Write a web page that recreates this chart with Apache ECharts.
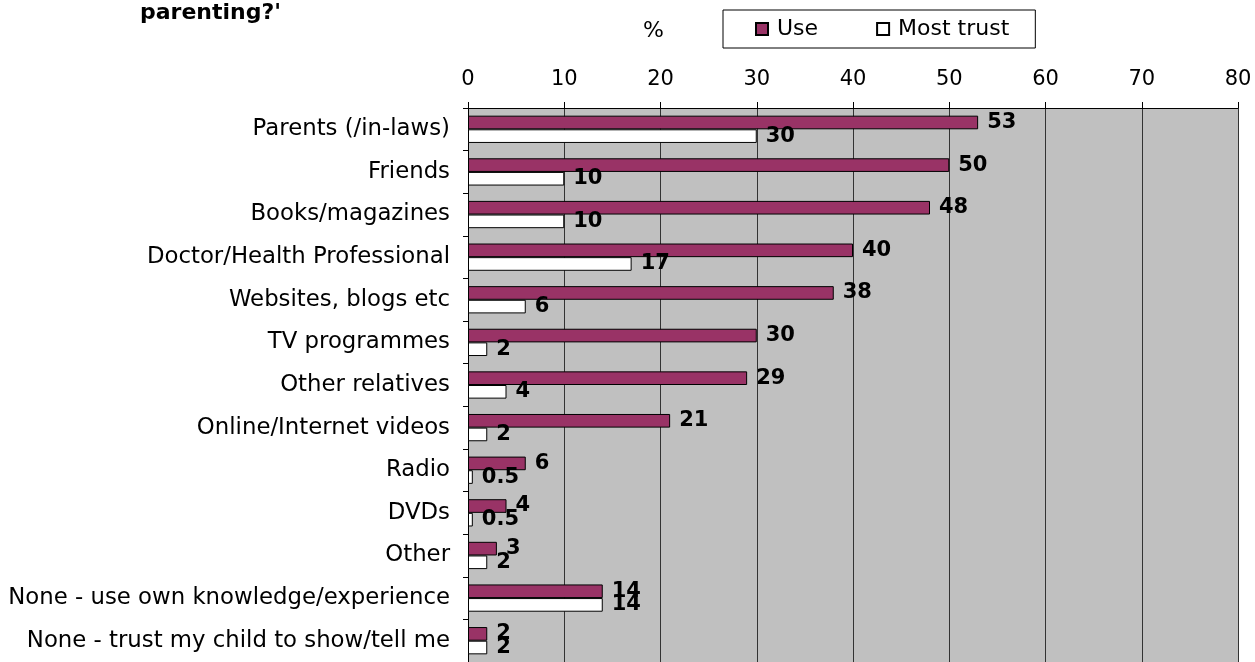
<!DOCTYPE html>
<html>
<head>
<meta charset="utf-8">
<script src="https://cdn.jsdelivr.net/npm/echarts@6/dist/echarts.min.js"></script>
<style>
html,body{margin:0;padding:0;background:#fff;}
#chart{width:1255px;height:662px;}
</style>
</head>
<body>
<div id="chart"></div>
<script>
const titleText = "parenting?'";
const unitText = '%';
const seriesNames = ['Use', 'Most trust'];
const categories = [
  'Parents (/in-laws)',
  'Friends',
  'Books/magazines',
  'Doctor/Health Professional',
  'Websites, blogs etc',
  'TV programmes',
  'Other relatives',
  'Online/Internet videos',
  'Radio',
  'DVDs',
  'Other',
  'None - use own knowledge/experience',
  'None - trust my child to show/tell me'
];
const useValues = [53, 50, 48, 40, 38, 30, 29, 21, 6, 4, 3, 14, 2];
const trustValues = [30, 10, 10, 17, 6, 2, 4, 2, 0.5, 0.5, 2, 14, 2];
const axisMin = 0, axisMax = 80, axisStep = 10;

const FONT = 'DejaVu Sans';
const chart = echarts.init(document.getElementById('chart'), null, {renderer: 'canvas'});

const labelStyle = {
  show: true,
  position: 'right',
  distance: 9,
  fontFamily: FONT,
  fontWeight: 'bold',
  fontSize: 21,
  color: '#000'
};

chart.setOption({
  animation: false,
  backgroundColor: '#fff',
  textStyle: {fontFamily: FONT},
  graphic: [
    {type: 'text', left: 140, top: 2, style: {text: titleText, font: 'bold 22px "DejaVu Sans"', fill: '#000'}},
    {type: 'text', left: 643, top: 20, style: {text: unitText, font: '22px "DejaVu Sans"', fill: '#000'}}
  ],
  legend: {
    data: seriesNames,
    left: 723,
    top: 10,
    orient: 'horizontal',
    padding: [8, 26, 8, 32],
    borderColor: '#000',
    borderWidth: 1,
    itemWidth: 12,
    itemHeight: 12,
    itemGap: 58,
    icon: 'rect',
    textStyle: {fontFamily: FONT, fontSize: 22, color: '#000', padding: [0, 0, 0, 4]}
  },
  grid: {
    left: 468,
    right: 17,
    top: 108,
    bottom: -8,
    show: true,
    backgroundColor: '#c0c0c0',
    borderWidth: 0,
    containLabel: false
  },
  xAxis: {
    type: 'value',
    position: 'top',
    min: axisMin,
    max: axisMax,
    interval: axisStep,
    axisLine: {show: true, lineStyle: {color: '#000', width: 1}},
    axisTick: {show: true, inside: false, length: 6, lineStyle: {color: '#000'}},
    axisLabel: {fontFamily: FONT, fontSize: 21, color: '#000', margin: 18},
    splitLine: {show: true, lineStyle: {color: '#333', width: 1}}
  },
  yAxis: {
    type: 'category',
    data: categories,
    inverse: true,
    axisLine: {show: true, lineStyle: {color: '#000', width: 1}},
    axisTick: {show: true, inside: false, length: 5, alignWithLabel: false, lineStyle: {color: '#000'}},
    axisLabel: {fontFamily: FONT, fontSize: 22.8, color: '#000', margin: 18},
    splitLine: {show: false}
  },
  series: [
    {
      name: seriesNames[0],
      type: 'bar',
      data: useValues,
      barGap: '0%',
      barCategoryGap: '36%',
      itemStyle: {color: '#993366', borderColor: '#000', borderWidth: 1},
      label: labelStyle
    },
    {
      name: seriesNames[1],
      type: 'bar',
      data: trustValues,
      barGap: '0%',
      barCategoryGap: '36%',
      itemStyle: {color: '#ffffff', borderColor: '#000', borderWidth: 1},
      label: labelStyle
    }
  ]
});
</script>
</body>
</html>
